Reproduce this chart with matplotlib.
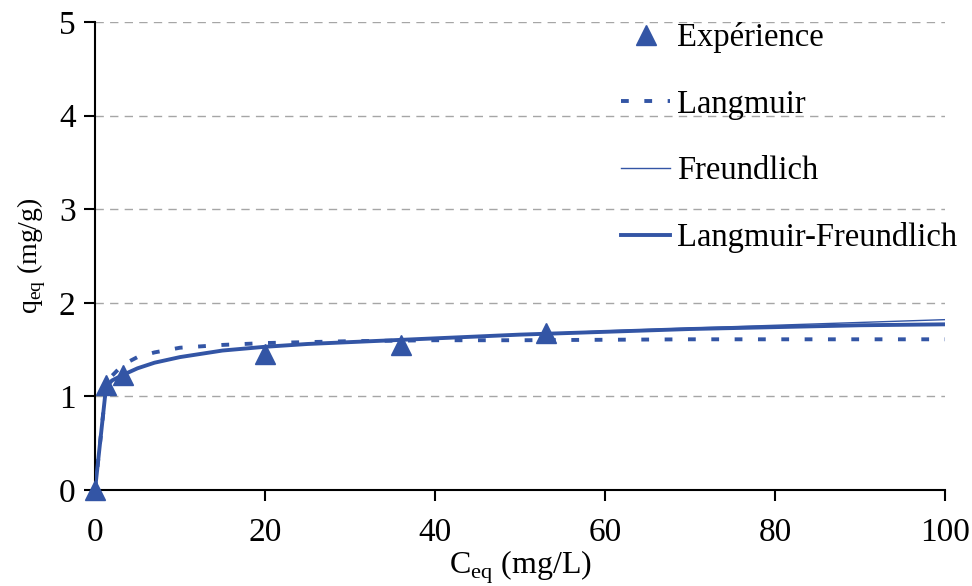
import numpy as np
import matplotlib.pyplot as plt

plt.rcParams['font.family'] = ['Liberation Serif', 'DejaVu Serif']
plt.rcParams['mathtext.fontset'] = 'custom'
plt.rcParams['mathtext.rm'] = 'Liberation Serif'

# Experimental points
c_exp = [0, 1.3, 3.3, 20, 36, 53]
q_exp = [0, 1.12, 1.23, 1.45, 1.55, 1.68]

# Model curves
c_fit = [0, 1.3, 2, 3.3, 5, 7, 10, 15, 20, 25, 30, 40, 50, 60, 70, 80, 90, 100]
q_langmuir = [0, 1.10, 1.22, 1.34, 1.42, 1.47, 1.52, 1.55, 1.57, 1.58, 1.59, 1.60,
              1.60, 1.605, 1.61, 1.61, 1.61, 1.61]
q_freundlich = [0, 1.10, 1.17, 1.23, 1.30, 1.36, 1.42, 1.49, 1.53, 1.56, 1.58, 1.62,
                1.66, 1.70, 1.73, 1.76, 1.79, 1.82]
q_lf = [0, 1.10, 1.17, 1.23, 1.30, 1.36, 1.42, 1.49, 1.53, 1.56, 1.58, 1.62,
        1.66, 1.69, 1.72, 1.74, 1.76, 1.77]

blue = '#3355A5'

fig = plt.figure(figsize=(9.72, 5.86), dpi=100)
ax = fig.add_axes([95/972, 1 - 490/586, 850/972, 468/586])

ax.plot(c_exp, q_exp, linestyle='none', marker='^', markersize=15, color=blue,
        label='Expérience', zorder=5, clip_on=False)
ax.plot(c_fit, q_langmuir, color=blue, linewidth=2.8, dashes=(2, 4), label='Langmuir')
ax.plot(c_fit, q_freundlich, color=blue, linewidth=1.0, label='Freundlich', zorder=4)
ax.plot(c_fit, q_lf, color=blue, linewidth=2.8, label='Langmuir-Freundlich', zorder=3)

ax.set_xlim(0, 100)
ax.set_ylim(0, 5)
ax.set_xticks([0, 20, 40, 60, 80, 100])
ax.set_yticks([0, 1, 2, 3, 4, 5])
ax.yaxis.grid(True, linestyle=(0, (6, 4.5)), color='#A6A6A6', linewidth=1)
ax.set_axisbelow(True)
for s in ['top', 'right']:
    ax.spines[s].set_visible(False)
ax.spines['left'].set_linewidth(1.5)
ax.spines['bottom'].set_linewidth(1.5)
ax.tick_params(direction='out', length=8, width=1.5, labelsize=24)
ax.tick_params(axis='x', pad=12)
ax.tick_params(axis='y', pad=6)

ax.set_xlabel(r'C$_{\mathrm{eq}}$ (mg/L)', fontsize=23, labelpad=0)
ax.set_ylabel(r'q$_{\mathrm{eq}}$ (mg/g)', fontsize=20, labelpad=8)

ax.legend(loc='upper left', bbox_to_anchor=(605/972, 1 - 6/586),
          bbox_transform=fig.transFigure, frameon=False, fontsize=23.5,
          borderpad=0, labelspacing=1.1, handlelength=1.5, handletextpad=0.2)

plt.savefig('out.png')
